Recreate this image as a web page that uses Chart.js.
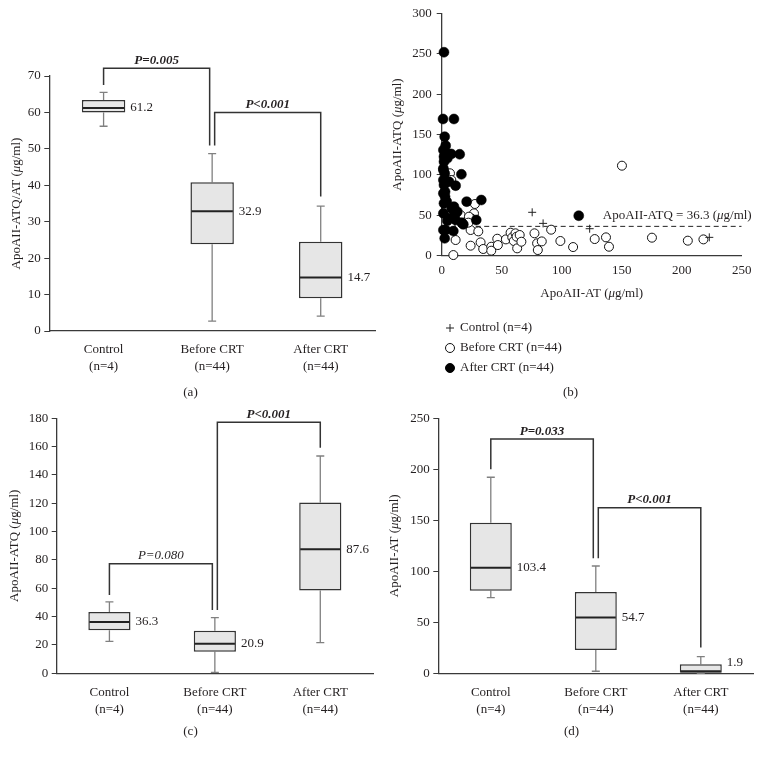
<!DOCTYPE html>
<html>
<head>
<meta charset="utf-8">
<script src="https://cdn.jsdelivr.net/npm/chart.js@4.4.1/dist/chart.umd.min.js"></script>
<style>
  html, body { margin: 0; padding: 0; background: #fff; }
  #wrap { position: relative; width: 762px; height: 758px; }
  canvas { position: absolute; }
</style>
</head>
<body>
<div id="wrap">
  <canvas id="chartA" width="381" height="400" style="left:0;top:0"></canvas>
  <canvas id="chartB" width="381" height="400" style="left:381px;top:0"></canvas>
  <canvas id="chartC" width="381" height="358" style="left:0;top:400px"></canvas>
  <canvas id="chartD" width="381" height="358" style="left:381px;top:400px"></canvas>
</div>
<script>
const groups = ["Control", "Before CRT", "After CRT"];
const groupN = ["(n=4)", "(n=44)", "(n=44)"];

// box stats per group: [low whisker, Q1, median, Q3, high whisker]
const ratioStats = [[56.2, 60.0, 61.2, 63.4, 65.5], [2.7, 23.8, 32.9, 40.8, 48.7], [4.1, 9.0, 14.7, 24.5, 34.3]];
const atqStats = [[22.6, 30.4, 36.3, 43.3, 50.4], [0.7, 15.3, 20.9, 30.0, 39.3], [21.6, 58.4, 87.6, 120.5, 153.4]];
const atStats = [[74.2, 81.0, 103.4, 147.7, 192.2], [2.0, 22.9, 54.7, 79.7, 105.2], [0.0, 0.6, 1.9, 8.8, 16.3]];

// significance brackets (leg ends and bar height in axis units)
const ratioP = [
  { from: 0, to: 1, start: 67.5, top: 72.1, end: 50.9, text: "P=0.005", bold: true },
  { from: 1, to: 2, start: 50.9, top: 60.0, end: 36.9, text: "P<0.001", bold: true }
];
const atqP = [
  { from: 0, to: 1, start: 55.3, top: 77.4, end: 44.7, text: "P=0.080", bold: false },
  { from: 1, to: 2, start: 44.7, top: 177.2, end: 159.3, text: "P<0.001", bold: true }
];
const atP = [
  { from: 0, to: 1, start: 200.0, top: 229.7, end: 112.7, text: "P=0.033", bold: true },
  { from: 1, to: 2, start: 112.7, top: 162.4, end: 25.2, text: "P<0.001", bold: true }
];

// scatter (x = ApoAII-AT, y = ApoAII-ATQ)
const controlPts = [[75.4, 53.7], [84.5, 40.0], [123.3, 33.4], [223.0, 22.7]];
const beforePts = [
  [150.2, 111.4], [27.7, 64.0], [26.9, 52.4], [24.7, 46.2], [24.1, 31.8], [30.5, 30.1], [32.4, 16.5],
  [34.6, 8.3], [24.1, 12.4], [41.3, 11.1], [41.3, 6.2], [46.3, 21.0], [46.8, 13.2], [53.5, 20.2],
  [57.4, 28.5], [58.8, 22.7], [60.1, 18.2], [61.5, 27.7], [62.4, 23.5], [62.9, 9.1], [65.0, 25.6],
  [66.4, 17.3], [77.3, 27.7], [79.5, 15.3], [80.1, 7.0], [83.4, 17.7], [91.2, 32.2], [98.9, 18.2],
  [109.5, 10.7], [127.5, 20.6], [136.9, 22.7], [139.4, 11.1], [175.2, 22.3], [205.1, 18.6], [218.1, 20.2],
  [9.7, 0.8], [11.6, 19.4], [7.5, 35.9], [15.8, 50.3], [6.9, 102.0], [22.7, 48.3], [8.0, 93.7],
  [4.2, 57.8], [22.2, 40.9]
];
const afterPts = [
  [1.9, 251.8], [1.1, 169.2], [10.2, 169.2], [2.5, 147.3], [3.3, 136.2], [1.4, 130.8], [1.9, 122.6],
  [6.1, 125.9], [8.0, 125.9], [15.0, 125.5], [4.7, 120.5], [1.9, 116.4], [1.4, 106.1], [2.5, 101.9],
  [16.4, 100.7], [1.4, 93.7], [6.1, 91.6], [11.6, 86.7], [1.9, 87.5], [2.8, 79.2], [1.4, 77.2],
  [2.8, 73.0], [4.2, 66.9], [1.9, 64.8], [20.8, 66.9], [33.0, 68.9], [10.2, 60.7], [1.4, 52.4],
  [4.7, 43.3], [10.8, 50.3], [16.6, 40.9], [18.0, 38.8], [28.8, 44.2], [9.7, 30.5], [2.5, 21.5],
  [114.2, 49.5], [8.3, 58.6], [1.4, 108.0], [2.8, 126.7], [6.1, 46.2], [13.0, 54.5], [3.3, 31.8],
  [11.6, 44.2], [1.4, 31.8]
];
const atqCutoff = 36.3;

const SERIF = "'Liberation Serif', 'DejaVu Serif', serif";
const TEXT = "#231f20";
const AXIS = "#3a3a3a";
const BOX_FILL = "#e6e6e6";
const BOX_EDGE = "#333";
const WHISKER = "#808080";

Chart.defaults.font.family = SERIF;
Chart.defaults.font.size = 13;
Chart.defaults.color = TEXT;

// text with an italic mu
function richText(ctx, parts, x, y, rotate, align) {
  ctx.save();
  ctx.translate(x, y);
  if (rotate) ctx.rotate(-Math.PI / 2);
  ctx.textBaseline = "middle";
  ctx.textAlign = "left";
  ctx.fillStyle = TEXT;
  const fonts = parts.map(p => (p[1] ? "italic " : "") + "13px " + SERIF);
  let total = 0;
  const widths = parts.map((p, i) => {
    ctx.font = fonts[i];
    const w = ctx.measureText(p[0]).width;
    total += w;
    return w;
  });
  let cx = align === "right" ? -total : -total / 2;
  parts.forEach((p, i) => {
    ctx.font = fonts[i];
    ctx.fillText(p[0], cx, 0);
    cx += widths[i];
  });
  ctx.restore();
}

function unitTitle(name) {
  return [[name + " ("], ["\u03bc", true], ["g/ml)"]];
}

function drawCaption(ctx, text, x, y) {
  ctx.save();
  ctx.font = "13px " + SERIF;
  ctx.fillStyle = TEXT;
  ctx.textAlign = "center";
  ctx.textBaseline = "middle";
  ctx.fillText(text, x, y);
  ctx.restore();
}

function boxPanel(id, stats, yMax, yStep, yTitle, brackets, area, caption) {
  const canvas = document.getElementById(id);
  const W = canvas.width, H = canvas.height;
  const xH = 56;
  const shared = brackets.filter(a => brackets.some(b => b.from === a.to)).map(a => a.to);

  new Chart(canvas, {
    type: "bar",
    data: {
      labels: groups.map((g, i) => [g, groupN[i]]),
      datasets: [{
        data: stats.map(s => [s[1], s[3]]),
        backgroundColor: BOX_FILL,
        borderColor: BOX_EDGE,
        borderWidth: 1.5,
        borderSkipped: false,
        barPercentage: 0.4,
        categoryPercentage: 1
      }]
    },
    options: {
      responsive: false,
      animation: false,
      devicePixelRatio: 1,
      layout: { padding: { left: 0, top: area.top, right: W - area.right, bottom: H - area.bottom - xH } },
      plugins: { legend: { display: false }, tooltip: { enabled: false } },
      scales: {
        x: {
          grid: { display: false, drawTicks: false },
          border: { display: true, color: AXIS, width: 1.3 },
          ticks: { padding: 10.5, color: TEXT, font: { size: 13, lineHeight: 1.3 } },
          afterFit: s => { s.height = xH; }
        },
        y: {
          min: 0,
          max: yMax,
          ticks: { stepSize: yStep, padding: 3.5, color: TEXT, font: { size: 13 } },
          grid: { drawOnChartArea: false, tickLength: 5, color: AXIS },
          border: { display: true, color: AXIS, width: 1.3 },
          afterFit: s => { s.width = area.left; }
        }
      }
    },
    plugins: [{
      id: "boxParts",
      beforeDatasetsDraw(chart) {
        const ctx = chart.ctx, ys = chart.scales.y;
        ctx.save();
        ctx.strokeStyle = WHISKER;
        ctx.lineWidth = 1.3;
        chart.getDatasetMeta(0).data.forEach((bar, i) => {
          const s = stats[i], x = bar.x;
          ctx.beginPath();
          ctx.moveTo(x, ys.getPixelForValue(s[0]));
          ctx.lineTo(x, ys.getPixelForValue(s[1]));
          ctx.moveTo(x, ys.getPixelForValue(s[3]));
          ctx.lineTo(x, ys.getPixelForValue(s[4]));
          [s[0], s[4]].forEach(v => {
            const py = ys.getPixelForValue(v);
            ctx.moveTo(x - 4, py);
            ctx.lineTo(x + 4, py);
          });
          ctx.stroke();
        });
        ctx.restore();
      },
      afterDatasetsDraw(chart) {
        const ctx = chart.ctx, ys = chart.scales.y, area = chart.chartArea;
        ctx.save();
        chart.getDatasetMeta(0).data.forEach((bar, i) => {
          const med = stats[i][2];
          const py = ys.getPixelForValue(med);
          ctx.strokeStyle = "#222";
          ctx.lineWidth = 2;
          ctx.beginPath();
          ctx.moveTo(bar.x - bar.width / 2 + 1, py);
          ctx.lineTo(bar.x + bar.width / 2 - 1, py);
          ctx.stroke();
          ctx.fillStyle = TEXT;
          ctx.font = "13px " + SERIF;
          ctx.textAlign = "left";
          ctx.textBaseline = "middle";
          ctx.fillText(med.toFixed(1), bar.x + bar.width / 2 + 5, Math.min(py, area.bottom - 10.5));
        });
        ctx.restore();
      },
      afterDraw(chart) {
        const ctx = chart.ctx, xs = chart.scales.x, ys = chart.scales.y;
        ctx.save();
        brackets.forEach(b => {
          const x1 = xs.getPixelForValue(b.from) + (shared.includes(b.from) ? 2.5 : 0);
          const x2 = xs.getPixelForValue(b.to) - (shared.includes(b.to) ? 2.5 : 0);
          const top = ys.getPixelForValue(b.top);
          ctx.strokeStyle = "#333";
          ctx.lineWidth = 1.5;
          ctx.beginPath();
          ctx.moveTo(x1, ys.getPixelForValue(b.start));
          ctx.lineTo(x1, top);
          ctx.lineTo(x2, top);
          ctx.lineTo(x2, ys.getPixelForValue(b.end));
          ctx.stroke();
          ctx.fillStyle = TEXT;
          ctx.font = (b.bold ? "italic bold " : "italic ") + "13px " + SERIF;
          ctx.textAlign = "center";
          ctx.textBaseline = "alphabetic";
          ctx.fillText(b.text, (x1 + x2) / 2, top - 4.5);
        });
        ctx.restore();
        richText(ctx, yTitle, area.titleX, (chart.chartArea.top + chart.chartArea.bottom) / 2, true);
        drawCaption(ctx, caption, W / 2, area.captionY);
      }
    }]
  });
}

boxPanel("chartA", ratioStats, 70, 10, unitTitle("ApoAII-ATQ/AT"), ratioP,
  { left: 49.3, top: 76, right: 375, bottom: 331, titleX: 17, captionY: 392.7 }, "(a)");
boxPanel("chartC", atqStats, 180, 20, unitTitle("ApoAII-ATQ"), atqP,
  { left: 56.7, top: 18.3, right: 373, bottom: 273.3, titleX: 15, captionY: 331.7 }, "(c)");
boxPanel("chartD", atStats, 250, 50, unitTitle("ApoAII-AT"), atP,
  { left: 57.3, top: 18.3, right: 372.3, bottom: 273.3, titleX: 14, captionY: 331.7 }, "(d)");

// scatter panel (b)
(function () {
  const canvas = document.getElementById("chartB");
  const W = canvas.width, H = canvas.height;
  const area = { left: 60.7, top: 13.3, right: 360.7, bottom: 255.7 };
  const xH = 25;
  const toXY = pts => pts.map(p => ({ x: p[0], y: p[1] }));

  new Chart(canvas, {
    type: "scatter",
    data: {
      datasets: [
        {
          label: groups[0] + " " + groupN[0],
          data: toXY(controlPts),
          pointStyle: "cross",
          pointRadius: 4,
          borderColor: "#222",
          backgroundColor: "#222",
          borderWidth: 1,
          clip: false,
          order: 0
        },
        {
          label: groups[1] + " " + groupN[1],
          data: toXY(beforePts),
          pointStyle: "circle",
          pointRadius: 4.5,
          backgroundColor: "#fff",
          borderColor: "#111",
          borderWidth: 1,
          clip: false,
          order: 2
        },
        {
          label: groups[2] + " " + groupN[2],
          data: toXY(afterPts),
          pointStyle: "circle",
          pointRadius: 5,
          backgroundColor: "#000",
          borderColor: "#000",
          borderWidth: 0.5,
          clip: false,
          order: 1
        },
        {
          type: "line",
          label: "cutoff",
          data: [{ x: 0, y: atqCutoff }, { x: 250, y: atqCutoff }],
          borderColor: "#222",
          borderWidth: 1,
          borderDash: [5, 3.5],
          pointRadius: 0,
          order: 3
        }
      ]
    },
    options: {
      responsive: false,
      animation: false,
      devicePixelRatio: 1,
      layout: { padding: { left: 0, top: area.top, right: W - area.right, bottom: H - area.bottom - xH } },
      plugins: { legend: { display: false }, tooltip: { enabled: false } },
      scales: {
        x: {
          type: "linear",
          min: 0,
          max: 250,
          grid: { display: false, drawTicks: false },
          border: { display: true, color: AXIS, width: 1.3 },
          ticks: { stepSize: 50, padding: 7, color: TEXT, font: { size: 13 } },
          afterFit: s => { s.height = xH; }
        },
        y: {
          min: 0,
          max: 300,
          ticks: { stepSize: 50, padding: 5, color: TEXT, font: { size: 13 } },
          grid: { drawOnChartArea: false, tickLength: 5, color: AXIS },
          border: { display: true, color: AXIS, width: 1.3 },
          afterFit: s => { s.width = area.left; }
        }
      }
    },
    plugins: [{
      id: "scatterExtras",
      afterDraw(chart) {
        const ctx = chart.ctx, xs = chart.scales.x, ys = chart.scales.y, ca = chart.chartArea;
        richText(ctx, [["ApoAII-ATQ = " + atqCutoff + " ("], ["\u03bc", true], ["g/ml)"]],
          xs.getPixelForValue(250) + 10, ys.getPixelForValue(atqCutoff) - 11, false, "right");
        richText(ctx, unitTitle("ApoAII-ATQ"), 17, (ca.top + ca.bottom) / 2, true);
        richText(ctx, unitTitle("ApoAII-AT"), (ca.left + ca.right) / 2, 294, false);

        // legend, stacked
        ctx.save();
        chart.data.datasets.slice(0, 3).forEach((ds, i) => {
          const cy = 328 + i * 20, cx = 69;
          ctx.strokeStyle = ds.borderColor;
          ctx.lineWidth = 1;
          ctx.beginPath();
          if (ds.pointStyle === "cross") {
            ctx.moveTo(cx - 4, cy); ctx.lineTo(cx + 4, cy);
            ctx.moveTo(cx, cy - 4); ctx.lineTo(cx, cy + 4);
            ctx.stroke();
          } else {
            ctx.arc(cx, cy, 4.5, 0, Math.PI * 2);
            ctx.fillStyle = ds.backgroundColor;
            ctx.fill();
            ctx.stroke();
          }
          ctx.fillStyle = TEXT;
          ctx.font = "13px " + SERIF;
          ctx.textAlign = "left";
          ctx.textBaseline = "middle";
          ctx.fillText(ds.label, cx + 10, cy);
        });
        ctx.restore();
        drawCaption(ctx, "(b)", W / 2 - 1, 392.7);
      }
    }]
  });
})();
</script>
</body>
</html>
